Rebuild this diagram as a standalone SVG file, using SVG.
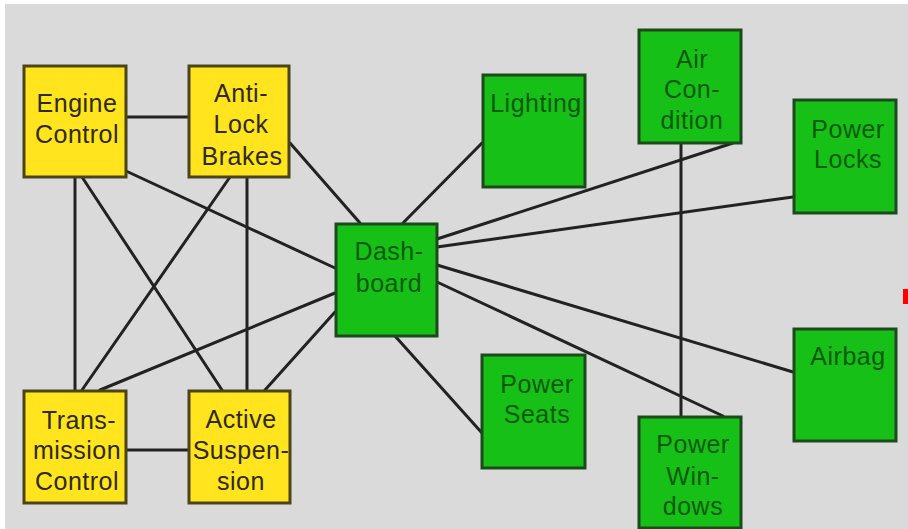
<svg xmlns="http://www.w3.org/2000/svg" width="908" height="529" viewBox="0 0 908 529">
<style>
.y{fill:#ffe41e;stroke:#4a4418;stroke-width:3}
.g{fill:#16c016;stroke:#1d4a1d;stroke-width:3}
.ty{font-family:"Liberation Sans",Arial,sans-serif;font-size:25px;letter-spacing:0.5px;fill:#2e2a10;text-anchor:middle}
.tg{font-family:"Liberation Sans",Arial,sans-serif;font-size:25px;letter-spacing:0.5px;fill:#0b5a0b;text-anchor:middle}
#connectors line{stroke:#222;stroke-width:3;stroke-linecap:round}
</style>
<rect x="0" y="0" width="908" height="529" fill="#ffffff"/>
<rect x="5" y="4" width="903" height="525" fill="#dadada"/>
<rect x="903" y="289" width="5" height="15" fill="#ff0000"/>
<g id="connectors">
<line x1="126" y1="117" x2="188" y2="117"/>
<line x1="75" y1="177" x2="75" y2="390"/>
<line x1="82" y1="177" x2="222" y2="390"/>
<line x1="126" y1="171" x2="335" y2="268"/>
<line x1="230" y1="177" x2="82" y2="390"/>
<line x1="247" y1="177" x2="247" y2="390"/>
<line x1="290" y1="143" x2="360" y2="223"/>
<line x1="100" y1="390" x2="335" y2="293"/>
<line x1="265" y1="390" x2="335" y2="312"/>
<line x1="126" y1="450" x2="188" y2="450"/>
<line x1="403" y1="223" x2="482" y2="143"/>
<line x1="437" y1="239" x2="733" y2="143"/>
<line x1="437" y1="247" x2="793" y2="197"/>
<line x1="681" y1="143" x2="681" y2="416"/>
<line x1="437" y1="265" x2="793" y2="372"/>
<line x1="437" y1="282" x2="723" y2="416"/>
<line x1="395" y1="336" x2="482" y2="433"/>
</g>
<g id="engine-control">
<rect class="y" x="24" y="66" width="102" height="111"/>
<text class="ty" x="77" y="112">Engine</text>
<text class="ty" x="77" y="143">Control</text>
</g>
<g id="anti-lock-brakes">
<rect class="y" x="189" y="66" width="100" height="111"/>
<text class="ty" x="241" y="102">Anti-</text>
<text class="ty" x="241" y="133">Lock</text>
<text class="ty" x="242" y="165">Brakes</text>
</g>
<g id="transmission-control">
<rect class="y" x="24" y="391" width="102" height="112"/>
<text class="ty" x="79" y="429">Trans-</text>
<text class="ty" x="77" y="459">mission</text>
<text class="ty" x="77" y="490">Control</text>
</g>
<g id="active-suspension">
<rect class="y" x="189" y="391" width="101" height="112"/>
<text class="ty" x="241" y="428">Active</text>
<text class="ty" x="241" y="459">Suspen-</text>
<text class="ty" x="241" y="490">sion</text>
</g>
<g id="dashboard">
<rect class="g" x="336" y="224" width="101" height="112"/>
<text class="tg" x="389" y="260">Dash-</text>
<text class="tg" x="389" y="292">board</text>
</g>
<g id="lighting">
<rect class="g" x="483" y="75" width="102" height="112"/>
<text class="tg" x="536" y="112">Lighting</text>
</g>
<g id="air-condition">
<rect class="g" x="639" y="30" width="102" height="113"/>
<text class="tg" x="692" y="68">Air</text>
<text class="tg" x="692" y="98">Con-</text>
<text class="tg" x="692" y="129">dition</text>
</g>
<g id="power-locks">
<rect class="g" x="794" y="100" width="102" height="113"/>
<text class="tg" x="848" y="138">Power</text>
<text class="tg" x="848" y="168">Locks</text>
</g>
<g id="power-seats">
<rect class="g" x="482" y="355" width="103" height="113"/>
<text class="tg" x="537" y="393">Power</text>
<text class="tg" x="537" y="423">Seats</text>
</g>
<g id="power-windows">
<rect class="g" x="639" y="417" width="102" height="111"/>
<text class="tg" x="693" y="453">Power</text>
<text class="tg" x="693" y="485">Win-</text>
<text class="tg" x="693" y="515">dows</text>
</g>
<g id="airbag">
<rect class="g" x="794" y="329" width="102" height="112"/>
<text class="tg" x="848" y="365">Airbag</text>
</g>
</svg>
